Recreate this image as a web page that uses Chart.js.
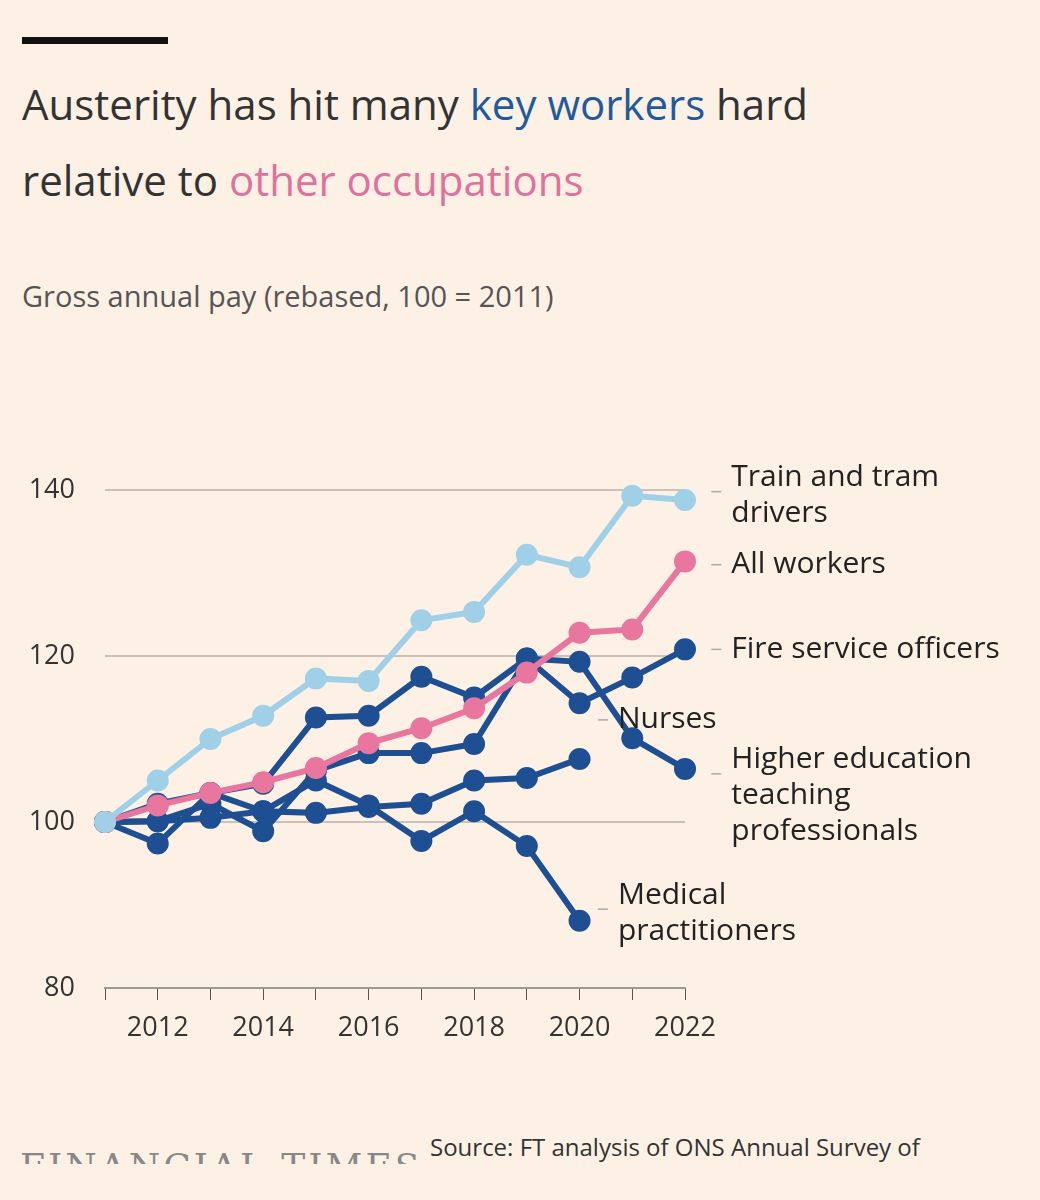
<!DOCTYPE html>
<html><head><meta charset="utf-8">
<script src="https://cdn.jsdelivr.net/npm/chart.js@4"></script>
<style>
body{margin:0;background:#fdf1e6;font-family:"Open Sans","Noto Sans",sans-serif;}
#wrap{position:relative;width:1040px;height:1200px;overflow:hidden}
.bar{position:absolute;left:22px;top:37px;width:146px;height:7px;background:#111}
.t{position:absolute;left:22px;font-size:42px;color:#333;line-height:76px;top:66px}
.s{position:absolute;left:22px;top:276px;font-size:29px;color:#555}
.ft{position:absolute;left:20px;top:1142px;font-family:"DejaVu Serif",serif;font-size:36px;color:#888;letter-spacing:3px;height:22px;overflow:hidden;line-height:50px}
.src{position:absolute;left:430px;top:1130px;font-size:24px;color:#333}
canvas{position:absolute;left:0;top:0}
</style></head><body><div id="wrap">
<div class="bar"></div>
<div class="t">Austerity has hit many <span style="color:#1f5a9e">key workers</span> hard<br>relative to <span style="color:#e0719d">other occupations</span></div>
<div class="s">Gross annual pay (rebased, 100 = 2011)</div>
<div class="ft">FINANCIAL TIMES</div>
<div class="src">Source: FT analysis of ONS Annual Survey of</div>
<canvas id="c" width="1040" height="1200"></canvas>
</div>
<script>
const years=[2011,2012,2013,2014,2015,2016,2017,2018,2019,2020,2021,2022];
const train=[100,105,110,112.8,117.3,117,124.3,125.3,132.2,130.7,139.3,138.8];
const allWorkers=[100,102,103.5,104.8,106.5,109.5,111.3,113.7,118,122.8,123.2,131.4];
const fire=[100,102.2,103.5,104.6,112.6,112.8,117.5,115,119.7,114.3,117.4,120.8];
const higherEd=[100,100.1,102.2,98.9,106.2,108.3,108.3,109.4,119.7,119.3,110.1,106.4];
const nurses=[100,100.1,100.5,101.3,101.1,101.8,102.2,105,105.3,107.6];
const medical=[100,97.4,103.5,101.3,105,102,97.7,101.3,97.1,88.1];
const yTicks=[80,100,120,140];
const labels=[
 {lines:["Train and tram","drivers"],v:139.8,x:2022.65},
 {lines:["All workers"],v:131,x:2022.65},
 {lines:["Fire service officers"],v:120.8,x:2022.65},
 {lines:["Nurses"],v:112.3,x:2020.5},
 {lines:["Higher education","teaching","professionals"],v:105.8,x:2022.65},
 {lines:["Medical","practitioners"],v:89.5,x:2020.5}
];
const DB='#1e4f92',LB='#9fd0e8',PK='#e8769f';
const pts=a=>a.map((v,i)=>({x:years[i],y:v}));
const ds=(d,c)=>({data:pts(d),borderColor:c,backgroundColor:c,borderWidth:6,pointRadius:8,pointHoverRadius:8,tension:0,clip:false});
const labelPlugin={id:'lbl',afterDatasetsDraw(ch){
 const c=ch.ctx,xs=ch.scales.x,ys=ch.scales.y;
 c.save();c.fillStyle='#222';c.font='30px "Open Sans","Noto Sans",sans-serif';c.textBaseline='middle';
 labels.forEach(l=>{const x=xs.getPixelForValue(l.x),y=ys.getPixelForValue(l.v);
  const n=l.lines.length;l.lines.forEach((t,i)=>c.fillText(t,x+12,y-(n>1?14:0)+i*36));
  c.strokeStyle='#aaa';c.lineWidth=1.5;c.beginPath();c.moveTo(x-8,y);c.lineTo(x+2,y);c.stroke();});
 c.restore();}};
new Chart(document.getElementById('c'),{type:'line',
 data:{datasets:[ds(train,LB),ds(allWorkers,PK),ds(medical,DB),ds(nurses,DB),ds(higherEd,DB),ds(fire,DB)]},
 options:{responsive:false,animation:false,
  layout:{padding:{left:0,right:355,top:490,bottom:152}},
  plugins:{legend:{display:false},tooltip:{enabled:false}},
  scales:{
   x:{type:'linear',min:2011,max:2022,afterFit:s=>{s.height=60},
    ticks:{stepSize:1,autoSkip:false,maxRotation:0,minRotation:0,padding:12,color:'#333',font:{size:27,family:'"Open Sans","Noto Sans",sans-serif'},callback:v=>v%2===0?String(v):''},
    grid:{drawOnChartArea:false,drawTicks:true,tickLength:12,color:'#555'},border:{display:true,color:'#999',width:2}},
   y:{min:80,max:140,afterFit:s=>{s.width=105},afterBuildTicks:s=>{s.ticks=yTicks.map(v=>({value:v}))},
    ticks:{padding:30,color:'#333',font:{size:27,family:'"Open Sans","Noto Sans",sans-serif'}},
    grid:{color:'#c9c2bb',lineWidth:2,drawTicks:false},border:{display:false}}
  }},plugins:[labelPlugin]});
</script></body></html>
